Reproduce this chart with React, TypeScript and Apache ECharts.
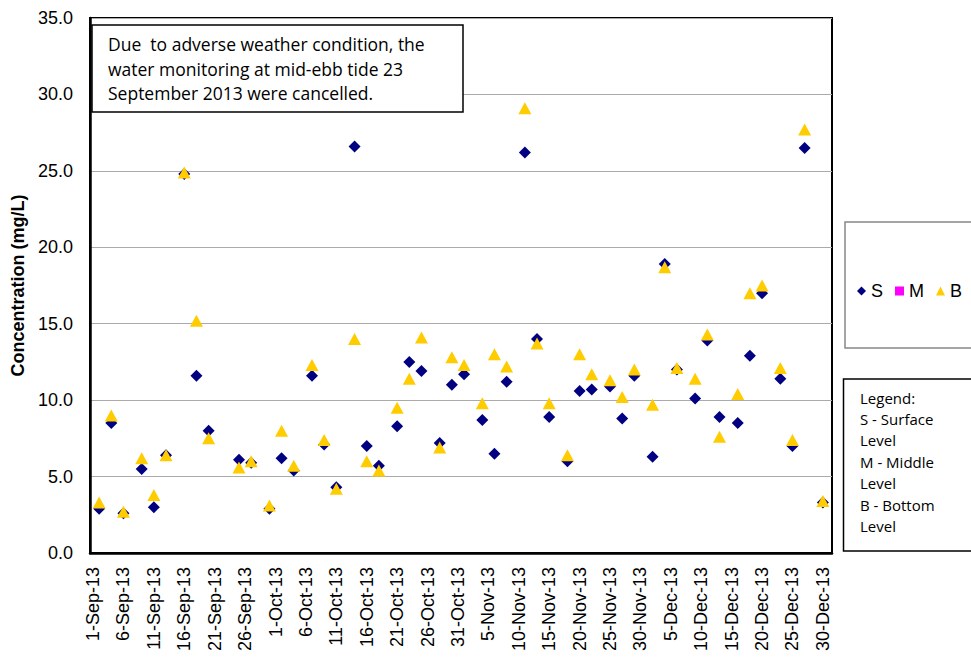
import React, { useEffect, useRef } from "react";
import * as echarts from "echarts";

// Sampling dates (2013) and concentrations (mg/L)
const sampleDates: string[] = [
  "2-Sep-13", "4-Sep-13", "6-Sep-13", "9-Sep-13", "11-Sep-13", "13-Sep-13", "16-Sep-13", "18-Sep-13", "20-Sep-13",
  "25-Sep-13", "27-Sep-13", "30-Sep-13", "2-Oct-13", "4-Oct-13", "7-Oct-13", "9-Oct-13", "11-Oct-13", "14-Oct-13",
  "16-Oct-13", "18-Oct-13", "21-Oct-13", "23-Oct-13", "25-Oct-13", "28-Oct-13", "30-Oct-13", "1-Nov-13", "4-Nov-13",
  "6-Nov-13", "8-Nov-13", "11-Nov-13", "13-Nov-13", "15-Nov-13", "18-Nov-13", "20-Nov-13", "22-Nov-13", "25-Nov-13",
  "27-Nov-13", "29-Nov-13", "2-Dec-13", "4-Dec-13", "6-Dec-13", "9-Dec-13", "11-Dec-13", "13-Dec-13", "16-Dec-13",
  "18-Dec-13", "20-Dec-13", "23-Dec-13", "25-Dec-13", "27-Dec-13", "30-Dec-13",
];

const surfaceValues: number[] = [
  2.9, 8.5, 2.6, 5.5, 3.0, 6.4, 24.8, 11.6, 8.0,
  6.1, 5.9, 2.9, 6.2, 5.4, 11.6, 7.1, 4.3, 26.6,
  7.0, 5.7, 8.3, 12.5, 11.9, 7.2, 11.0, 11.7, 8.7,
  6.5, 11.2, 26.2, 14.0, 8.9, 6.0, 10.6, 10.7, 10.9,
  8.8, 11.6, 6.3, 18.9, 12.0, 10.1, 13.9, 8.9, 8.5,
  12.9, 17.0, 11.4, 7.0, 26.5, 3.3,
];

const middleValues: number[] = [];

const bottomValues: number[] = [
  3.3, 9.0, 2.7, 6.2, 3.8, 6.4, 24.9, 15.2, 7.5,
  5.6, 6.0, 3.1, 8.0, 5.7, 12.3, 7.4, 4.2, 14.0,
  6.0, 5.4, 9.5, 11.4, 14.1, 6.9, 12.8, 12.3, 9.8,
  13.0, 12.2, 29.1, 13.7, 9.8, 6.4, 13.0, 11.7, 11.3,
  10.2, 12.0, 9.7, 18.7, 12.1, 11.4, 14.3, 7.6, 10.4,
  17.0, 17.5, 12.1, 7.4, 27.7, 3.4,
];

const yTicks: number[] = [0, 5, 10, 15, 20, 25, 30, 35];

const noteLines: string[] = [
  "Due\u00a0 to adverse weather condition, the",
  "water monitoring at mid-ebb tide 23",
  "September 2013 were cancelled.",
];

const legendNoteLines: string[] = [
  "Legend:",
  "S - Surface",
  "Level",
  "M - Middle",
  "Level",
  "B - Bottom",
  "Level",
];

// Daily axis categories, 1-Sep-13 .. 31-Dec-13
const months: [string, number][] = [["Sep", 30], ["Oct", 31], ["Nov", 30], ["Dec", 31]];
const categories: string[] = [];
months.forEach(([m, n]) => {
  for (let d = 1; d <= n; d++) categories.push(`${d}-${m}-13`);
});

const toPoints = (vals: number[]) =>
  vals.map((v, i) => [categories.indexOf(sampleDates[i]), v]);

export default function App() {
  const ref = useRef<HTMLDivElement>(null);

  useEffect(() => {
    if (!ref.current) return;
    const chart = echarts.init(ref.current, null, { renderer: "svg" });
    const font = "'Liberation Sans', Arial, sans-serif";
    const noteFont = "'Open Sans', sans-serif";

    const noteText = noteLines.map((t, i) => ({
      type: "text",
      left: 108,
      top: 35 + i * 24.5,
      z: 101,
      style: { text: t, font: `17.5px ${noteFont}`, fill: "#000" },
    }));
    const legendText = legendNoteLines.map((t, i) => ({
      type: "text",
      left: 860,
      top: 390 + i * 21.4,
      z: 101,
      style: { text: t, font: `15px ${noteFont}`, fill: "#000" },
    }));

    chart.setOption({
      animation: false,
      backgroundColor: "#fff",
      grid: {
        left: 90,
        right: 139,
        top: 18,
        bottom: 109,
        show: true,
        borderColor: "#000",
        borderWidth: 2,
        backgroundColor: "transparent",
      },
      xAxis: {
        type: "category",
        data: categories,
        boundaryGap: true,
        axisLine: { lineStyle: { color: "#000", width: 2.5 } },
        axisTick: { interval: 4, length: 5, lineStyle: { color: "#999" } },
        axisLabel: {
          interval: 4,
          rotate: 90,
          margin: 14,
          color: "#000",
          fontSize: 18,
          fontFamily: font,
        },
        splitLine: { show: false },
      },
      yAxis: {
        type: "value",
        min: yTicks[0],
        max: yTicks[yTicks.length - 1],
        interval: 5,
        name: "Concentration (mg/L)",
        nameLocation: "middle",
        nameRotate: 90,
        nameGap: 62,
        nameTextStyle: { fontSize: 18, fontWeight: "bold", color: "#000", fontFamily: font },
        axisLine: { show: true, lineStyle: { color: "#000", width: 2.5 } },
        axisTick: { show: false },
        axisLabel: {
          margin: 17,
          color: "#000",
          fontSize: 18,
          fontFamily: font,
          formatter: (v: number) => v.toFixed(1),
        },
        splitLine: { lineStyle: { color: "#aaa", width: 1 } },
      },
      legend: {
        left: 852,
        top: 277,
        width: 300,
        orient: "horizontal",
        itemGap: 12,
        itemWidth: 9,
        itemHeight: 9,
        textStyle: { fontSize: 18, color: "#000", fontFamily: font },
        data: [
          { name: "S", icon: "diamond" },
          { name: "M", icon: "rect" },
          { name: "B", icon: "triangle" },
        ],
      },
      graphic: [
        {
          type: "rect",
          shape: { x: 845, y: 222, width: 140, height: 126 },
          style: { fill: "#fff", stroke: "#888", lineWidth: 1.5 },
          z: -1,
        },
        {
          type: "rect",
          shape: { x: 92, y: 25, width: 371, height: 87 },
          style: { fill: "#fff", stroke: "#000", lineWidth: 1.5 },
          z: 100,
        },
        ...noteText,
        {
          type: "rect",
          shape: { x: 843.5, y: 379, width: 140, height: 172 },
          style: { fill: "#fff", stroke: "#000", lineWidth: 1.5 },
          z: 100,
        },
        ...legendText,
      ],
      series: [
        {
          name: "S",
          type: "scatter",
          symbol: "diamond",
          symbolSize: 12,
          itemStyle: { color: "#000080", opacity: 1 },
          data: toPoints(surfaceValues),
          z: 2,
        },
        {
          name: "M",
          type: "scatter",
          symbol: "rect",
          symbolSize: 10,
          itemStyle: { color: "#FF00FF", opacity: 1 },
          data: toPoints(middleValues),
          z: 3,
        },
        {
          name: "B",
          type: "scatter",
          symbol: "triangle",
          symbolSize: [13, 12],
          itemStyle: { color: "#FFCC00", opacity: 1 },
          data: toPoints(bottomValues),
          z: 4,
        },
      ],
    });

    return () => chart.dispose();
  }, []);

  return (
    <div
      ref={ref}
      style={{ position: "fixed", left: 0, top: 0, width: 971, height: 662 }}
    />
  );
}
